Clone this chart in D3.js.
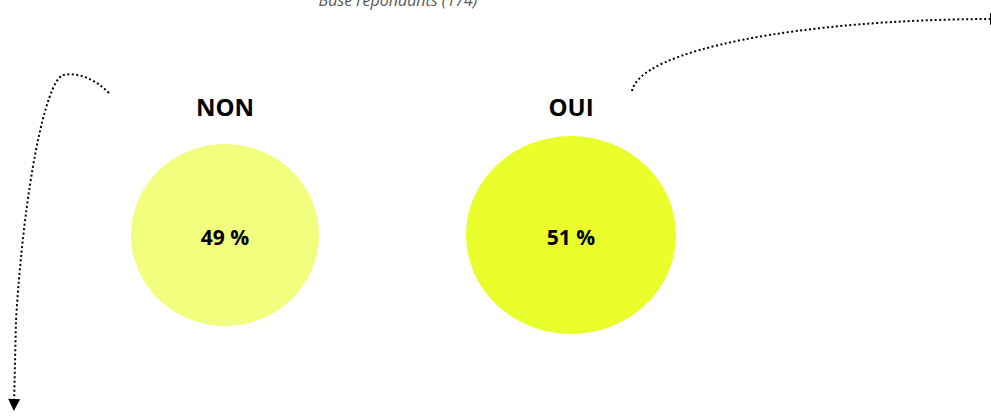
<!DOCTYPE html>
<html>
<head>
<meta charset="utf-8">
<script src="https://cdn.jsdelivr.net/npm/d3@7"></script>
<style>
  html, body { margin: 0; padding: 0; background: #fff; }
  svg { display: block; }
</style>
</head>
<body>
<script>
const categories = ["NON", "OUI"];
const values = [49, 51];
const fills = ["#F2FE7E", "#EAFE2B"];
const subtitle = "Base répondants (174)";

const W = 991, H = 417;
const svg = d3.select("body").append("svg").attr("width", W).attr("height", H);

const x = d3.scalePoint().domain(categories).range([225, 571]);
const rx = d3.scaleLinear().domain([49, 51]).range([94, 105]);
const ry = d3.scaleLinear().domain([49, 51]).range([91, 99]);
const cy = 235;

const data = categories.map((c, i) => ({ cat: c, val: values[i], fill: fills[i] }));

// subtitle (cut off at top, as in the reference)
svg.append("text")
  .attr("x", 398).attr("y", 6)
  .attr("text-anchor", "middle")
  .attr("font-family", "Open Sans, sans-serif")
  .attr("font-style", "italic")
  .attr("font-size", 16)
  .attr("fill", "#595959")
  .text(subtitle);

// arrow marker
const defs = svg.append("defs");
defs.append("marker")
  .attr("id", "arr")
  .attr("viewBox", "0 0 10 10")
  .attr("refX", 5).attr("refY", 5)
  .attr("markerWidth", 14).attr("markerHeight", 12)
  .attr("markerUnits", "userSpaceOnUse")
  .attr("orient", "auto")
  .append("path").attr("d", "M0,0 L10,5 L0,10 Z").attr("fill", "#000");

// left connector
svg.append("path")
  .attr("d", "M109,93 C 95,79 78,72 63,75 C 45,82 24,190 16,320 L 14,405")
  .attr("fill", "none").attr("stroke", "#000")
  .attr("stroke-width", 2).attr("stroke-dasharray", "2,2.5")
  .attr("marker-end", "url(#arr)");

// right connector
svg.append("path")
  .attr("d", "M632,91 C 640,50 800,19 996,19")
  .attr("fill", "none").attr("stroke", "#000")
  .attr("stroke-width", 2).attr("stroke-dasharray", "2,2.5")
  .attr("marker-end", "url(#arr)");

const g = svg.selectAll("g.item").data(data).join("g").attr("class", "item");

g.append("ellipse")
  .attr("cx", d => x(d.cat)).attr("cy", cy)
  .attr("rx", d => rx(d.val)).attr("ry", d => ry(d.val))
  .attr("fill", d => d.fill);

g.append("text")
  .attr("x", d => x(d.cat)).attr("y", 116)
  .attr("text-anchor", "middle")
  .attr("font-family", "Open Sans, sans-serif")
  .attr("font-weight", "bold")
  .attr("font-size", 24)
  .attr("fill", "#000")
  .text(d => d.cat);

g.append("text")
  .attr("x", d => x(d.cat)).attr("y", 245)
  .attr("text-anchor", "middle")
  .attr("font-family", "Open Sans, sans-serif")
  .attr("font-weight", "bold")
  .attr("font-size", 21)
  .attr("fill", "#000")
  .text(d => d.val + " %");
</script>
</body>
</html>
